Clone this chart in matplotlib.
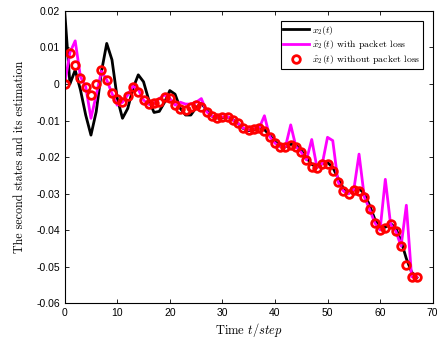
import matplotlib
matplotlib.use("Agg")
from matplotlib import pyplot as plt

plt.rcParams['mathtext.fontset'] = 'cm'

steps = list(range(68))

x2 = [0.02, 0.0, 0.0038, -0.0016, -0.0085, -0.014, -0.0076, 0.0034, 0.0111, 0.0066,
      -0.0039, -0.0094, -0.0067, -0.0012, 0.0025, 0.0006, -0.0044, -0.0078, -0.0075, -0.005,
      -0.0018, -0.0028, -0.0067, -0.0085, -0.0085, -0.0065, -0.0052, -0.0072, -0.0088, -0.0093,
      -0.0092, -0.009, -0.0098, -0.0108, -0.0122, -0.0128, -0.0125, -0.0118, -0.0125, -0.014,
      -0.0158, -0.017, -0.0172, -0.0165, -0.0168, -0.0182, -0.0202, -0.022, -0.0228, -0.0218,
      -0.0215, -0.0228, -0.0258, -0.0285, -0.0298, -0.029, -0.0286, -0.03, -0.0332, -0.037,
      -0.0392, -0.0392, -0.0382, -0.0395, -0.043, -0.0478, -0.0515, -0.053]

est_loss = [0.0, 0.0086, 0.0118, 0.002, -0.0007, -0.0094, -0.003, 0.0035, 0.0011, -0.0026,
            -0.0058, -0.005, -0.003, -0.0006, -0.0015, -0.0044, -0.0056, -0.0053, -0.004, -0.003,
            -0.0039, -0.0058, -0.005, -0.0055, -0.0055, -0.005, -0.004, -0.0076, -0.0088, -0.0092,
            -0.009, -0.009, -0.0099, -0.0108, -0.0121, -0.0126, -0.0123, -0.0121, -0.0087, -0.0144,
            -0.0162, -0.0172, -0.0172, -0.0112, -0.0172, -0.0187, -0.0208, -0.0152, -0.0229, -0.0219,
            -0.0146, -0.0155, -0.0268, -0.0293, -0.0301, -0.029, -0.0192, -0.0309, -0.0343, -0.038,
            -0.04, -0.0261, -0.0384, -0.0403, -0.0444, -0.0332, -0.0528, -0.0528]

est_noloss = [0.0, 0.0086, 0.0053, 0.0015, -0.0007, -0.0031, 0.0, 0.0038, 0.0011, -0.0026,
              -0.0042, -0.0049, -0.0033, -0.0009, -0.0023, -0.0044, -0.0056, -0.0053, -0.0048, -0.0035,
              -0.0039, -0.0058, -0.0069, -0.0071, -0.0062, -0.0058, -0.0062, -0.0076, -0.0088, -0.0092,
              -0.009, -0.009, -0.0099, -0.0108, -0.0121, -0.0126, -0.0123, -0.0121, -0.0129, -0.0144,
              -0.0162, -0.0172, -0.0172, -0.0167, -0.0172, -0.0187, -0.0208, -0.0227, -0.0229, -0.0219,
              -0.0219, -0.0237, -0.0268, -0.0293, -0.0301, -0.029, -0.0292, -0.0309, -0.0343, -0.038,
              -0.04, -0.0393, -0.0384, -0.0403, -0.0444, -0.0496, -0.0528, -0.0528]

fig = plt.figure(figsize=(4.37, 3.41), dpi=100)
ax = fig.add_axes([0.148, 0.111, 0.842, 0.857])

ax.plot(steps, x2, color='black', lw=2, label=r'$x_2(t)$')
ax.plot(steps, est_loss, color='magenta', lw=2, label=r'$\hat{x}_2(t)$ with packet loss')
ax.plot(steps, est_noloss, 'o', color='red', mfc='none', mew=2, ms=5.5,
        label=r'$\hat{x}_2(t)$ without packet loss')

ax.set_xlim(0, 70)
ax.set_ylim(-0.06, 0.02)
ax.set_xticks(range(0, 71, 10))
ax.set_yticks([-0.06, -0.05, -0.04, -0.03, -0.02, -0.01, 0, 0.01, 0.02])
ax.set_yticklabels(['-0.06', '-0.05', '-0.04', '-0.03', '-0.02', '-0.01', '0', '0.01', '0.02'])
ax.tick_params(direction='in', top=True, right=True, labelsize=7.5, length=3, width=0.6)
for tl in ax.get_xticklabels() + ax.get_yticklabels():
    tl.set_fontfamily('Liberation Sans')
for s in ax.spines.values():
    s.set_linewidth(0.8)

ax.set_xlabel(r'Time $t/step$', fontfamily='cmr10', fontsize=9, labelpad=2)
ax.set_ylabel('The second states and its estimation', fontfamily='cmr10', fontsize=8.7, labelpad=7)

leg = ax.legend(loc='upper right', fontsize=7, fancybox=False, edgecolor='black',
                framealpha=1, handlelength=2.6, borderpad=0.3, labelspacing=0.2,
                handletextpad=0.3, borderaxespad=1.0, prop={'family': 'cmr10', 'size': 7})
leg.get_frame().set_linewidth(0.8)

fig.savefig('out.png', dpi=100)
